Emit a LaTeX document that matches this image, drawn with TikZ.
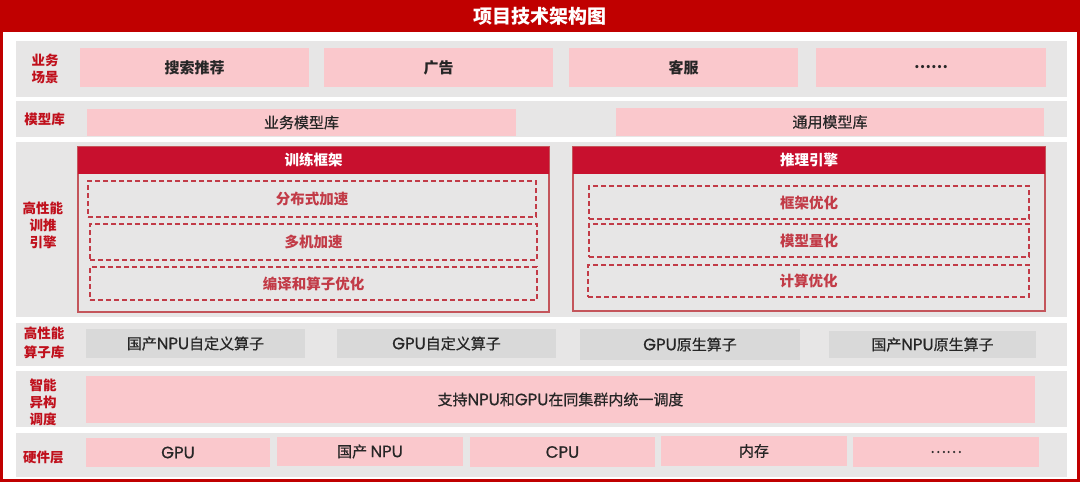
\documentclass[tikz,border=0pt]{standalone}
\usepackage{fontspec}
\setmainfont{Noto Sans CJK SC}
\newfontfamily\midfont{Noto Sans CJK SC}[FakeBold=0.6]
\newfontfamily\latfont{Poppins}[Scale=1.1, FakeBold=0.7]
\newcommand{\lat}[1]{{\latfont #1}}
\usetikzlibrary{positioning}
\definecolor{titlered}{HTML}{C00000}
\definecolor{bandgray}{HTML}{E7E6E6}
\definecolor{boxpink}{HTML}{FAC8CC}
\definecolor{boxgray}{HTML}{D9D9D9}
\definecolor{headred}{HTML}{C8102E}
\definecolor{panelline}{HTML}{C4555B}
\definecolor{dashred}{HTML}{C23B47}
\definecolor{labelred}{HTML}{C0101C}
\definecolor{textdark}{HTML}{262626}
\tikzset{
	band/.style={fill=bandgray, inner sep=0pt},
	pinkbox/.style={fill=boxpink, inner sep=0pt, text=textdark, font=\midfont\fontsize{15}{18}\selectfont},
	scenebox/.style={pinkbox, font=\bfseries\fontsize{15}{18}\selectfont, minimum height=39pt},
	graybox/.style={fill=boxgray, inner sep=0pt, text=textdark, font=\midfont\fontsize{15}{18}\selectfont},
	rowlabel/.style={align=center, inner sep=0pt, text=labelred, font=\bfseries\fontsize{13.5}{17}\selectfont},
	panel/.style={draw=panelline, line width=1.2pt, inner sep=0pt},
	panelhead/.style={fill=headred, inner sep=0pt, text=white, minimum height=27pt, font=\bfseries\fontsize{14.5}{18}\selectfont},
	dashbox/.style={draw=dashred, line width=1.1pt, dash pattern=on 5pt off 3pt, inner sep=0pt, text=dashred, font=\bfseries\fontsize{14.5}{18}\selectfont}
}
\begin{document}
\begin{tikzpicture}[x=1pt, y=-1pt]
				\useasboundingbox (0,0) rectangle (1080,482);
				\fill[white] (0,0) rectangle (1080,482);
				\node (titlebar) [fill=titlered, anchor=north west, minimum width=1080pt, minimum height=32pt, inner sep=0pt, text=white, font=\bfseries\fontsize{19}{22}\selectfont] at (0,0) {项目技术架构图};
				\draw[titlered, line width=3pt] (1.5,1.5) rectangle (1078.5,480.5);

				\node (bandscene) [band, minimum width=1051pt, minimum height=56pt] at (541.5,69) {};
				\node (bandmodel) [band, minimum width=1051pt, minimum height=36pt] at (541.5,119) {};
				\node (bandengine) [band, minimum width=1051pt, minimum height=175pt] at (541.5,229.5) {};
				\node (bandop) [band, minimum width=1051pt, minimum height=43pt] at (541.5,344.5) {};
				\node (bandsched) [band, minimum width=1051pt, minimum height=56pt] at (541.5,399) {};
				\node (bandhw) [band, minimum width=1051pt, minimum height=44pt] at (541.5,455) {};

				\node (labscene) [rowlabel] at (45,68.5) {业务\\场景};
				\node (labmodel) [rowlabel] at (44.5,119) {模型库};
				\node (labengine) [rowlabel] at (43,225.5) {高性能\\训推\\引擎};
				\node (labop) [rowlabel, font=\bfseries\fontsize{13.5}{19}\selectfont] at (44,342.5) {高性能\\算子库};
				\node (labsched) [rowlabel] at (43,402) {智能\\异构\\调度};
				\node (labhw) [rowlabel] at (43.5,457) {硬件层};

				\node (search) [scenebox, minimum width=229pt] at (194.5,67.5) {搜索推荐};
				\node (ads) [scenebox, minimum width=229pt] at (438.5,67.5) {广告};
				\node (service) [scenebox, minimum width=229pt] at (683.5,67.5) {客服};
				\node (scenemore) [scenebox, minimum width=230pt] at (931,67.5) {……};

				\node (bizmodel) [pinkbox, minimum width=429pt, minimum height=27pt] at (301.5,122.5) {业务模型库};
				\node (genmodel) [pinkbox, minimum width=428pt, minimum height=28pt] at (830,122) {通用模型库};

				\node (trainpanel) [panel, minimum width=471pt, minimum height=165pt] at (313.5,229.5) {};
				\node (trainhead) [panelhead, anchor=north, minimum width=471pt] at (trainpanel.north) {训练框架};
				\node (distacc) [dashbox, minimum width=448pt, minimum height=36pt] at (312,199) {分布式加速};
				\node (multiacc) [dashbox, minimum width=447pt, minimum height=36pt] at (313.5,242) {多机加速};
				\node (compileop) [dashbox, minimum width=447pt, minimum height=33pt] at (313.5,283.5) {编译和算子优化};

				\node (inferpanel) [panel, minimum width=472pt, minimum height=164pt] at (809,229) {};
				\node (inferhead) [panelhead, anchor=north, minimum width=472pt] at (inferpanel.north) {推理引擎};
				\node (frameopt) [dashbox, minimum width=440pt, minimum height=33pt] at (809,202.5) {框架优化};
				\node (quant) [dashbox, minimum width=440pt, minimum height=33pt] at (809,240.5) {模型量化};
				\node (computeopt) [dashbox, minimum width=441pt, minimum height=32pt] at (808.5,281) {计算优化};

				\node (npucustom) [graybox, minimum width=219pt, minimum height=29pt] at (195.5,343.5) {国产\lat{NPU}自定义算子};
				\node (gpucustom) [graybox, minimum width=219pt, minimum height=29pt] at (446.5,343.5) {\lat{GPU}自定义算子};
				\node (gpunative) [graybox, minimum width=220pt, minimum height=31pt] at (690,344.5) {\lat{GPU}原生算子};
				\node (npunative) [graybox, minimum width=207pt, minimum height=27pt] at (932.5,344.5) {国产\lat{NPU}原生算子};

				\node (sched) [pinkbox, minimum width=949pt, minimum height=47pt] at (560.5,399.5) {支持\lat{NPU}和\lat{GPU}在同集群内统一调度};

				\node (gpu) [pinkbox, minimum width=184pt, minimum height=29pt] at (178,452.5) {\lat{GPU}};
				\node (npu) [pinkbox, minimum width=186pt, minimum height=29pt] at (370,451.5) {国产 \lat{NPU}};
				\node (cpu) [pinkbox, minimum width=185pt, minimum height=30pt] at (562.5,452) {\lat{CPU}};
				\node (mem) [pinkbox, minimum width=186pt, minimum height=30pt] at (754,451) {内存};
				\node (hwmore) [pinkbox, minimum width=186pt, minimum height=30pt] at (946,452) {……};
\end{tikzpicture}
\end{document}
